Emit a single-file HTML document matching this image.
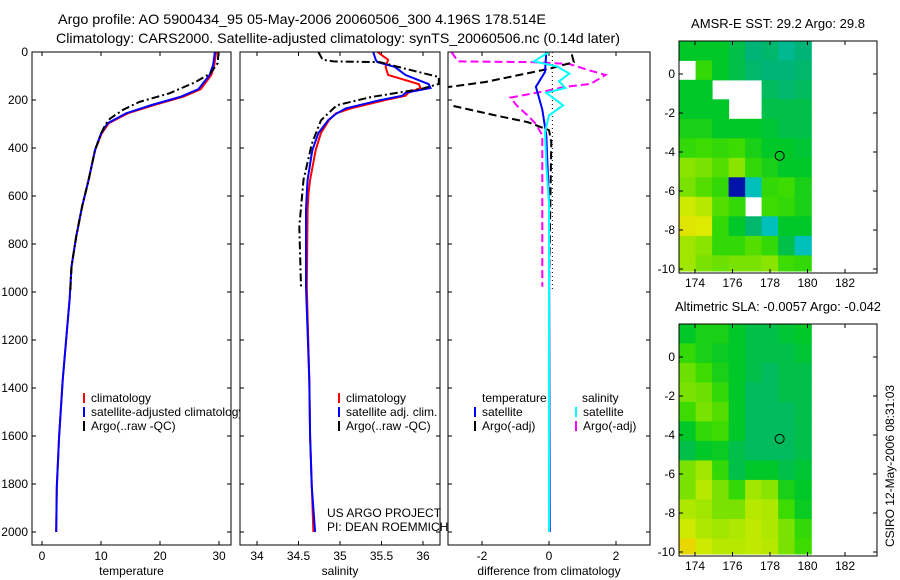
<!DOCTYPE html>
<html><head><meta charset="utf-8"><style>
body{margin:0;background:#fff}
svg{display:block;font-family:"Liberation Sans",sans-serif}
</style></head><body>
<svg id="c" width="900" height="580" xmlns="http://www.w3.org/2000/svg">
<text x="58" y="24" font-size="14" textLength="488" lengthAdjust="spacingAndGlyphs">Argo profile: AO 5900434_95 05-May-2006 20060506_300 4.196S 178.514E</text>
<text x="56" y="43" font-size="14" textLength="564" lengthAdjust="spacingAndGlyphs">Climatology: CARS2000. Satellite-adjusted climatology: synTS_20060506.nc (0.14d later)</text>
<g id="g"></g>
</svg>
<script>
// ---- data ----
const depthT=[0,54,96,155,186,221,255,297,340,408,533,644,769,894,1026,1367,1603,1812,2000];
const tempSat=[29.3,29.0,28.4,26.5,23.6,18.6,14.3,11.1,10.0,9.0,7.9,6.8,5.8,5.0,4.7,3.5,2.9,2.5,2.4];
const tempClim=[29.5,29.2,28.7,26.9,24.0,19.0,14.6,11.3,10.1,9.0,7.9,6.8,5.8,5.0,4.7,3.5,2.9,2.5,2.4];
const depthTA=[0,46,90,128,173,208,240,278,300,340,408,533,644,769,894,1000];
const tempArgo=[29.9,29.8,28.5,25.8,21.5,16.5,13.8,11.5,10.8,10.0,9.0,7.9,6.8,5.8,5.0,4.8];
const depthS=[0,32,42,62,96,134,150,170,182,201,235,256,283,338,406,422,533,589,658,978,1367,1600,1812,2000];
const salSat=[35.40,35.43,35.45,35.66,35.79,36.07,36.09,35.79,35.75,35.48,35.07,34.96,34.86,34.74,34.67,34.66,34.61,34.60,34.59,34.59,34.63,34.64,34.66,34.70];
const salClim=[35.45,35.58,35.57,35.55,35.58,35.95,35.97,35.82,35.79,35.54,35.13,34.95,34.87,34.77,34.71,34.70,34.64,34.62,34.61,34.60,34.63,34.64,34.66,34.68];
const depthSA=[0,32,39,42,70,104,133,154,188,222,285,383,533,727,978];
const salArgo=[34.74,34.79,34.92,35.48,35.79,36.19,36.19,35.98,35.37,34.96,34.77,34.66,34.56,34.51,34.53];
const depthD=[0,39,42,50,78,96,133,145,160,190,222,264,300,347,978];
const dSalArgo=[-2.91,-2.72,-0.52,0.61,1.24,1.69,1.24,0.49,0.0,-1.15,-0.97,-0.64,-0.39,-0.2,-0.2];
const depthDT1=[10,42,70,125,146];
const dTempArgo1=[0.68,0.74,0.0,-1.9,-3.0];
const depthDT2=[225,264,292,326,375,978];
const dTempArgo2=[-2.85,-1.6,-0.64,0.0,0.07,0.0];
const depthDS=[0,83,145,240,347,625,2000];
const dTempSat=[-0.08,-0.12,-0.39,-0.2,-0.08,0.0,0.02];
const depthDC=[0,39,60,90,122,150,170,222,264,333,472,625,2000];
const dSalSat=[0,-0.45,0.24,0.61,0.3,0.49,-0.08,0.42,0,-0.12,-0.08,0,0];
const depthTicks=[0,200,400,600,800,1000,1200,1400,1600,1800,2000];
const tTicks=[0,10,20,30];
const sTicks=[34,34.5,35,35.5,36];
const dTicks=[-2,0,2];
const lonTicks=[174,176,178,180,182];
const latTicks=[0,-2,-4,-6,-8,-10];
const gridLon=[173.15,174.03,174.91,175.79,176.67,177.55,178.43,179.31,180.2];
const gridLat=[1.7,0.7,-0.3,-1.3,-2.3,-3.3,-4.3,-5.3,-6.3,-7.3,-8.3,-9.3,-10.1];
const sstGrid=[
[0.5,0.5,0.5,0.45,0.38,0.4,0.35,0.38],
[-1,0.6,0.5,0.45,0.4,0.38,0.38,0.4],
[0.5,0.5,-1,-1,-1,0.42,0.4,0.42],
[0.5,0.5,0.5,-1,-1,0.45,0.45,0.45],
[0.55,0.55,0.5,0.5,0.5,0.48,0.45,0.45],
[0.6,0.62,0.6,0.62,0.55,0.5,0.5,0.48],
[0.72,0.7,0.65,0.72,0.6,0.55,0.5,0.5],
[0.7,0.65,0.6,0.05,0.3,0.6,0.62,0.55],
[0.85,0.8,0.65,0.6,-1,0.62,0.6,0.55],
[0.9,0.88,0.6,0.5,0.4,0.3,0.5,0.5],
[0.75,0.72,0.6,0.6,0.65,0.6,0.45,0.3],
[0.75,0.7,0.68,0.7,0.7,0.72,0.62,0.6]];
const slaGrid=[
[0.5,0.55,0.55,0.5,0.45,0.45,0.48,0.5],
[0.6,0.55,0.52,0.5,0.45,0.45,0.45,0.48],
[0.68,0.62,0.55,0.5,0.45,0.42,0.45,0.45],
[0.7,0.68,0.6,0.5,0.42,0.42,0.45,0.45],
[0.62,0.7,0.65,0.5,0.42,0.42,0.42,0.45],
[0.5,0.6,0.62,0.5,0.42,0.42,0.42,0.45],
[0.45,0.5,0.52,0.45,0.42,0.42,0.42,0.45],
[0.7,0.75,0.6,0.45,0.5,0.5,0.45,0.48],
[0.7,0.8,0.7,0.6,0.75,0.72,0.55,0.5],
[0.78,0.75,0.7,0.7,0.8,0.78,0.62,0.52],
[0.85,0.78,0.75,0.78,0.82,0.78,0.7,0.6],
[0.95,0.85,0.8,0.8,0.82,0.8,0.7,0.62]];
const floatPos=[178.514,-4.196];

// ---- drawing ----
const NS='http://www.w3.org/2000/svg', G=document.getElementById('g');
function mk(tag,at,parent){const e=document.createElementNS(NS,tag);for(const k in at)e.setAttribute(k,at[k]);(parent||G).appendChild(e);return e;}
const top0=52, bot=545, yD=d=>top0+d*0.24;
const panels=[
 {x0:32,x1:231,xs:v=>42+v*5.9,ticks:tTicks,title:'temperature',name:'temperature-panel'},
 {x0:240,x1:440,xs:v=>257+(v-34)*83,ticks:sTicks,title:'salinity',name:'salinity-panel'},
 {x0:448,x1:650,xs:v=>549+v*33.5,ticks:dTicks,title:'difference from climatology',name:'difference-panel'}];
panels.forEach((p,i)=>{
 const r=mk('rect',{x:p.x0,y:top0,width:p.x1-p.x0,height:bot-top0,fill:'#fff',stroke:'none'});
 
 
 depthTicks.forEach(d=>{const y=yD(d);
  mk('line',{x1:p.x0,y1:y,x2:p.x0+4,y2:y,stroke:'#000'});
  mk('line',{x1:p.x1,y1:y,x2:p.x1-4,y2:y,stroke:'#000'});
  if(i==0){const t=mk('text',{x:28,y:y+4,'font-size':12,'text-anchor':'end'});t.textContent=d;
   
   }
 });
 p.ticks.forEach(v=>{const x=p.xs(v);
  mk('line',{x1:x,y1:bot,x2:x,y2:bot-4,stroke:'#000'});
  mk('line',{x1:x,y1:top0,x2:x,y2:top0+4,stroke:'#000'});
  const t=mk('text',{x:x,y:560,'font-size':12,'text-anchor':'middle'});t.textContent=v;
  
  
 });
 const t=mk('text',{x:(p.x0+p.x1)/2,y:575,'font-size':12,'text-anchor':'middle'});t.textContent=p.title;
 
 
});
const clip=mk('clipPath',{id:'cp'});
panels.forEach(p=>mk('rect',{x:p.x0,y:top0,width:p.x1-p.x0,height:bot-top0},clip));
function line(p,vals,depths,color,dash,name){
 const pts=vals.map((v,i)=>p.xs(v).toFixed(1)+','+yD(depths[i]).toFixed(1)).join(' ');
 const e=mk('polyline',{points:pts,fill:'none',stroke:color,'stroke-width':2,'clip-path':'url(#cp)'});
 if(dash)e.setAttribute('stroke-dasharray',dash);
 
 
}
const dd='8,3,2,3';
line(panels[0],tempClim,depthT,'#f00',null,'temp-climatology-line');
line(panels[0],tempSat,depthT,'#00f',null,'temp-satellite-line');
line(panels[0],tempArgo,depthTA,'#000',dd,'temp-argo-line');
line(panels[1],salClim,depthS,'#f00',null,'sal-climatology-line');
line(panels[1],salSat,depthS,'#00f',null,'sal-satellite-line');
line(panels[1],salArgo,depthSA,'#000',dd,'sal-argo-line');
const zl=mk('line',{x1:panels[2].xs(0.1),y1:top0,x2:panels[2].xs(0.1),y2:yD(1000),stroke:'#000','stroke-dasharray':'1,3'});


line(panels[2],dSalArgo,depthD,'#f0f','8,4','sal-argo-diff-line');
line(panels[2],dTempArgo1,depthDT1,'#000','8,4','temp-argo-diff-line-upper');
line(panels[2],dTempArgo2,depthDT2,'#000','8,4','temp-argo-diff-line-lower');
line(panels[2],dTempSat,depthDS,'#00f',null,'temp-satellite-diff-line');
line(panels[2],dSalSat,depthDC,'#0ff',null,'sal-satellite-diff-line');

// legends
function leg(x,y,color,txt,name){
 if(color){const m=mk('line',{x1:x,y1:y-9,x2:x,y2:y+1,stroke:color,'stroke-width':2});
  
  }
 const t=mk('text',{x:x+7,y:y,'font-size':12});t.textContent=txt;
 
 
}
leg(84,402,'#f00','climatology','legend-temp-climatology');
leg(84,416,'#00f','satellite-adjusted climatology','legend-temp-satellite');
leg(84,430,'#000','Argo(..raw -QC)','legend-temp-argo');
const cov=mk('rect',{x:240,y:405,width:20,height:14,fill:'#fff'});


mk('line',{x1:240,y1:400,x2:240,y2:420,stroke:'#000'});
leg(339,402,'#f00','climatology','legend-sal-climatology');
leg(339,416,'#00f','satellite adj. clim.','legend-sal-satellite');
leg(339,430,'#000','Argo(..raw -QC)','legend-sal-argo');
leg(475,402,null,'temperature','legend-diff-temp-header');
leg(575,402,null,'salinity','legend-diff-sal-header');
leg(475,416,'#00f','satellite','legend-diff-temp-satellite');
leg(475,430,'#000','Argo(-adj)','legend-diff-temp-argo');
leg(576,416,'#0ff','satellite','legend-diff-sal-satellite');
leg(576,430,'#f0f','Argo(-adj)','legend-diff-sal-argo');
panels.forEach(p=>{const b=mk('rect',{x:p.x0,y:top0,width:p.x1-p.x0,height:bot-top0,fill:'none',stroke:'#000'});
 
 });
[['US ARGO PROJECT',517],['PI: DEAN ROEMMICH',531]].forEach(a=>{const t=mk('text',{x:327,y:a[1],'font-size':12});t.textContent=a[0];
 
 });

// maps
function cmap(v){
 const stops=[[0,[0,0,140]],[0.15,[0,60,230]],[0.25,[0,200,230]],[0.38,[0,180,120]],[0.5,[0,200,40]],[0.62,[60,220,0]],[0.75,[160,230,0]],[0.88,[220,235,0]],[1,[240,200,0]]];
 for(let i=1;i<stops.length;i++){if(v<=stops[i][0]){const a=stops[i-1],b=stops[i],t=(v-a[0])/(b[0]-a[0]);
  return 'rgb('+a[1].map((c,k)=>Math.round(c+(b[1][k]-c)*t)).join(',')+')';}}
 return 'rgb(240,200,0)';
}
function drawMap(off,grid,title,name,tl){
 const L=679,R=877,T=41+off,B=273+off;
 const xs=lon=>695+(lon-174)*18.75, ys=lat=>74+off-lat*19.5;
 const tt=mk('text',{x:(L+R)/2,y:T-13,'font-size':13,'text-anchor':'middle',textLength:tl,lengthAdjust:'spacingAndGlyphs'});tt.textContent=title;
 
 
 grid.forEach((row,r)=>row.forEach((v,c)=>{
  if(v<0)return;
  const x=xs(gridLon[c]),y=ys(gridLat[r]);
  const e=mk('rect',{x:x.toFixed(1),y:y.toFixed(1),width:(xs(gridLon[c+1])-x+0.5).toFixed(1),height:(ys(gridLat[r+1])-y+0.5).toFixed(1),fill:cmap(v)});
  
  
 }));
 const ci=mk('circle',{cx:xs(floatPos[0]),cy:ys(floatPos[1]),r:4.5,fill:'none',stroke:'#000'});
 
 
 const f=mk('rect',{x:L,y:T,width:R-L,height:B-T,fill:'none',stroke:'#000'});
 
 
 lonTicks.forEach(l=>{const x=xs(l);mk('line',{x1:x,y1:B,x2:x,y2:B-4,stroke:'#000'});mk('line',{x1:x,y1:T,x2:x,y2:T+4,stroke:'#000'});
  const t=mk('text',{x:x,y:B+14,'font-size':12,'text-anchor':'middle'});t.textContent=l;
  
  });
 latTicks.forEach(l=>{const y=ys(l);mk('line',{x1:L,y1:y,x2:L+4,y2:y,stroke:'#000'});mk('line',{x1:R,y1:y,x2:R-4,y2:y,stroke:'#000'});
  const t=mk('text',{x:L-4,y:y+4,'font-size':12,'text-anchor':'end'});t.textContent=l;
  
  });
}
drawMap(0,sstGrid,'AMSR-E SST: 29.2 Argo: 29.8','sst-map',174);
drawMap(283,slaGrid,'Altimetric SLA: -0.0057 Argo: -0.042','sla-map',206);
const cs=mk('text',{x:0,y:0,'font-size':12,'text-anchor':'middle',transform:'translate(894,466) rotate(-90)'});
cs.textContent='CSIRO 12-May-2006 08:31:03';


</script>
</body></html>
